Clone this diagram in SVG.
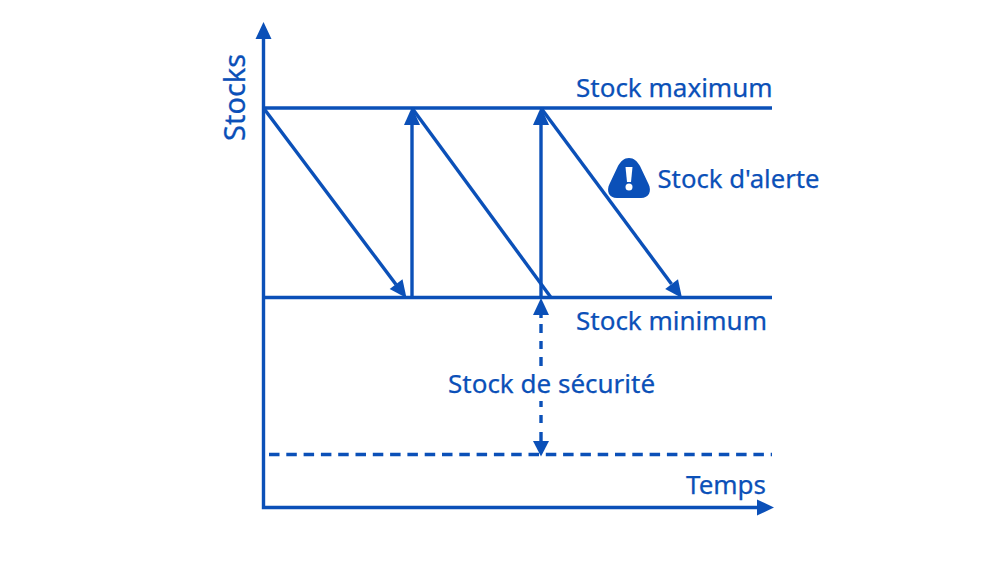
<svg xmlns="http://www.w3.org/2000/svg" width="1000" height="562" viewBox="0 0 1000 562">
<style>
.l{stroke:#0b50b8;stroke-width:3.4;fill:none;stroke-linecap:butt}
.d{stroke-dasharray:10.5 6.8}
.h{fill:#0b50b8}
text{font-family:"Noto Sans","Open Sans",sans-serif;font-size:26px;fill:#0b50b8;stroke:#0b50b8;stroke-width:.25}
</style>
<rect width="1000" height="562" fill="#fff"/>
<g id="connectors">
<path class="l" d="M263.500 38V507.500H760"/>
<path class="h" d="M263.500 22L271.500 39H255.500Z"/>
<path class="h" d="M774 507.500L757 499.500V515.500Z"/>
<path class="l" d="M263 108H772"/>
<path class="l" d="M263 297.500H772"/>
<path class="l d" d="M269 454.500H772"/>
<path class="l" d="M263.500 108L396 284.500"/>
<path class="h" d="M406.500 298L389.700 288.900L402.500 279.300Z"/>
<path class="l" d="M412 297.500V122"/>
<path class="h" d="M412 107L420 125H404Z"/>
<path class="l" d="M412 108L551 297.500"/>
<path class="l" d="M541 297.500V122"/>
<path class="h" d="M541 107L549 125H533Z"/>
<path class="l" d="M541 108L671.500 284"/>
<path class="h" d="M682 298L665.200 288.900L678 279.300Z"/>
<path class="l" d="M541 314V318M541 324V333M541 341V349M541 357V366M541 401V407M541 415V423M541 432V442"/>
<path class="h" d="M541 298L549 315H533Z"/>
<path class="h" d="M541 456.500L533 441H549Z"/>
</g>
<g id="stocks"><text transform="translate(245 141) rotate(-90)" style="font-size:29px">Stocks</text></g>
<g id="stock-maximum"><text x="576" y="97">Stock maximum</text></g>
<g id="stock-alerte">
<path d="M629 158C624 158 621 161 618 166L609.500 184C606 191 609 198 617 198H641C649 198 652 191 648.500 184L640 166C637 161 634 158 629 158Z" fill="#0b50b8"/>
<path d="M625.500 167H632.500L631 182H627Z" fill="#fff"/>
<circle cx="629" cy="187" r="3.500" fill="#fff"/>
<text x="657.500" y="187.500" style="font-size:25.700px">Stock d'alerte</text>
</g>
<g id="stock-minimum"><text x="576" y="330">Stock minimum</text></g>
<g id="stock-securite"><text x="448" y="393">Stock de sécurité</text></g>
<g id="temps"><text x="686" y="493.500">Temps</text></g>
</svg>
